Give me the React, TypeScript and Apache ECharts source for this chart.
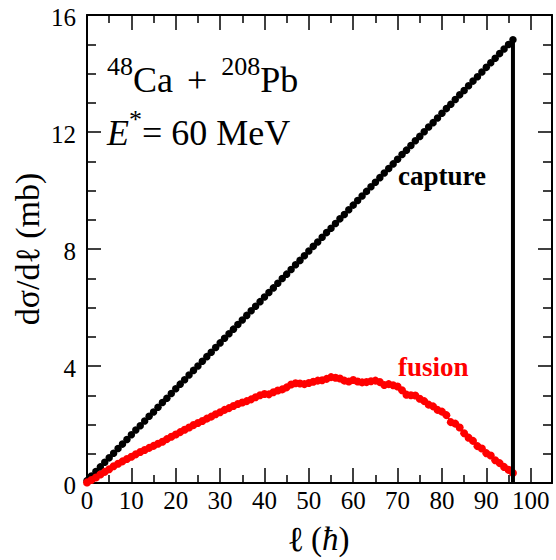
import React, { useEffect, useRef } from "react";
import * as echarts from "echarts";

// angular momentum ℓ (ħ)
const ELL = [
  0, 1, 2, 3, 4, 5, 6, 7, 8, 9, 10, 11, 12, 13, 14, 15, 16, 17, 18, 19,
  20, 21, 22, 23, 24, 25, 26, 27, 28, 29, 30, 31, 32, 33, 34, 35, 36, 37, 38, 39,
  40, 41, 42, 43, 44, 45, 46, 47, 48, 49, 50, 51, 52, 53, 54, 55, 56, 57, 58, 59,
  60, 61, 62, 63, 64, 65, 66, 67, 68, 69, 70, 71, 72, 73, 74, 75, 76, 77, 78, 79,
  80, 81, 82, 83, 84, 85, 86, 87, 88, 89, 90, 91, 92, 93, 94, 95, 96,
];

// capture partial cross section dσ/dℓ (mb)
const CAPTURE = [
  0.08, 0.24, 0.39, 0.55, 0.71, 0.86, 1.02, 1.18, 1.33, 1.49,
  1.65, 1.81, 1.96, 2.12, 2.28, 2.43, 2.59, 2.75, 2.9, 3.06,
  3.22, 3.38, 3.53, 3.69, 3.85, 4.0, 4.16, 4.32, 4.47, 4.63,
  4.79, 4.95, 5.1, 5.26, 5.42, 5.57, 5.73, 5.89, 6.04, 6.2,
  6.36, 6.51, 6.67, 6.83, 6.99, 7.14, 7.3, 7.46, 7.61, 7.77,
  7.93, 8.09, 8.24, 8.4, 8.56, 8.71, 8.87, 9.03, 9.18, 9.34,
  9.5, 9.66, 9.81, 9.97, 10.13, 10.28, 10.44, 10.6, 10.75, 10.91,
  11.07, 11.23, 11.38, 11.54, 11.7, 11.85, 12.01, 12.17, 12.32, 12.48,
  12.64, 12.8, 12.95, 13.11, 13.27, 13.42, 13.58, 13.74, 13.89, 14.05,
  14.21, 14.37, 14.52, 14.68, 14.84, 14.99, 15.15,
];

// fusion partial cross section dσ/dℓ (mb)
const FUSION = [
  0.02, 0.1, 0.19, 0.29, 0.38, 0.47, 0.57, 0.66, 0.74, 0.82,
  0.9, 0.98, 1.06, 1.13, 1.2, 1.27, 1.34, 1.41, 1.5, 1.58,
  1.66, 1.74, 1.82, 1.9, 1.98, 2.05, 2.12, 2.2, 2.27, 2.35,
  2.42, 2.5, 2.56, 2.63, 2.7, 2.75, 2.8, 2.86, 2.93, 3.0,
  3.04, 3.03, 3.1, 3.16, 3.2, 3.27, 3.37, 3.41, 3.4, 3.38,
  3.42, 3.46, 3.5, 3.51, 3.56, 3.62, 3.6, 3.57, 3.5, 3.47,
  3.52, 3.47, 3.44, 3.45, 3.48, 3.5, 3.45, 3.35, 3.38, 3.34,
  3.3, 3.17, 3.02, 3.0, 2.99, 2.88, 2.8, 2.68, 2.62, 2.5,
  2.44, 2.32, 2.08, 2.03, 1.9, 1.7, 1.55, 1.44, 1.26, 1.18,
  1.02, 0.94, 0.78, 0.68, 0.55, 0.45, 0.34,
];

const X_MAJOR = [0, 10, 20, 30, 40, 50, 60, 70, 80, 90, 100];
const X_MINOR = [5, 15, 25, 35, 45, 55, 65, 75, 85, 95];
const Y_MAJOR = [0, 4, 8, 12, 16];
const X_MIN = 0;
const X_MAX = 104.8;
const Y_MIN = 0;
const Y_MAX = 16;
const Y_STEP = 4;

const X_TITLE = "{a|ℓ}{c| (}{b|ħ}{c|)}";
const Y_TITLE = "{c|dσ/dℓ (mb)}";

const SERIF = "'Liberation Serif', 'Times New Roman', serif";

const tok = (size: number, extra: any = {}) => ({
  fontFamily: SERIF,
  fontSize: size,
  fill: "#000",
  ...extra,
});

export default function App() {
  const ref = useRef<HTMLDivElement>(null);

  useEffect(() => {
    document.body.style.margin = "0";
    if (!ref.current) return;
    const chart = echarts.init(ref.current, undefined, { renderer: "svg" });

    const lastIdx = ELL.length - 1;
    const cutoff = ELL[lastIdx];

    const baseX = (position: "bottom" | "top") => ({
      type: "value",
      position,
      min: X_MIN,
      max: X_MAX,
      interval: 10,
      splitLine: { show: false },
      axisLabel: { show: false },
    });

    const majorX = (position: "bottom" | "top") => ({
      ...baseX(position),
      axisLine: { show: true, onZero: false, lineStyle: { color: "#000", width: 2 } },
      axisTick: {
        show: true,
        inside: true,
        length: 15,
        customValues: X_MAJOR,
        lineStyle: { color: "#000", width: 1.5 },
      },
    });

    const minorX = (position: "bottom" | "top") => ({
      ...baseX(position),
      axisLine: { show: false, onZero: false },
      axisTick: {
        show: true,
        inside: true,
        length: 8,
        customValues: X_MINOR,
        lineStyle: { color: "#000", width: 1.5 },
      },
    });

    const yAxisDef = (position: "left" | "right") => ({
      type: "value",
      position,
      min: Y_MIN,
      max: Y_MAX,
      interval: Y_STEP,
      splitLine: { show: false },
      axisLine: { show: true, onZero: false, lineStyle: { color: "#000", width: 2 } },
      axisTick: { show: true, inside: true, length: 14, lineStyle: { color: "#000", width: 1.5 } },
      minorTick: { show: true, splitNumber: 4, length: 9, lineStyle: { color: "#000", width: 1.5 } },
      axisLabel: { show: false },
    });

    const supStyle = tok(26, { lineHeight: 26, verticalAlign: "top" });
    const mainStyle = tok(36, { lineHeight: 45, verticalAlign: "bottom" });

    const option: any = {
      animation: false,
      backgroundColor: "#fff",
      grid: { left: 87, right: 4, top: 15, bottom: 77, containLabel: false },
      xAxis: [majorX("bottom"), minorX("bottom"), majorX("top"), minorX("top")],
      yAxis: [yAxisDef("left"), yAxisDef("right")],
      series: [
        {
          type: "line",
          name: "capture",
          xAxisIndex: 0,
          yAxisIndex: 0,
          data: ELL.map((l, i) => [l, CAPTURE[i]]),
          symbol: "circle",
          symbolSize: 7.5,
          showAllSymbol: true,
          clip: false,
          itemStyle: { color: "#000" },
          lineStyle: { color: "#000", width: 2 },
          z: 2,
        },
        {
          type: "line",
          name: "fusion",
          xAxisIndex: 0,
          yAxisIndex: 0,
          data: ELL.map((l, i) => [l, FUSION[i]]),
          symbol: "circle",
          symbolSize: 8,
          showAllSymbol: true,
          clip: false,
          itemStyle: { color: "#ff0000" },
          lineStyle: { color: "#ff0000", width: 2 },
          z: 3,
        },
        {
          type: "line",
          name: "cutoff",
          xAxisIndex: 0,
          yAxisIndex: 0,
          data: [
            [cutoff, 0],
            [cutoff, CAPTURE[lastIdx]],
          ],
          symbol: "none",
          clip: false,
          lineStyle: { color: "#000", width: 4 },
          z: 4,
        },
      ],
    };

    chart.setOption(option);

    // tick labels and axis titles placed from the axes' own scales
    const toPx = (x: number, y: number) =>
      chart.convertToPixel({ xAxisIndex: 0, yAxisIndex: 0 }, [x, y]) as number[];

    const graphics: any[] = [];
    X_MAJOR.forEach((v) => {
      const [px, py] = toPx(v, Y_MIN);
      graphics.push({
        type: "text",
        x: px,
        y: py + 17,
        silent: true,
        style: {
          text: `{t|${v}}`,
          font: `25px ${SERIF}`,
          fill: "#000",
          align: "center",
          verticalAlign: "middle",
          rich: { t: tok(25, { lineHeight: 26 }) },
        },
      });
    });
    Y_MAJOR.forEach((v) => {
      const [px, py] = toPx(X_MIN, v);
      graphics.push({
        type: "text",
        x: px - 11,
        y: py + 2,
        silent: true,
        style: {
          text: `{t|${v}}`,
          font: `25px ${SERIF}`,
          fill: "#000",
          align: "right",
          verticalAlign: "middle",
          rich: { t: tok(25, { lineHeight: 26 }) },
        },
      });
    });

    const [xLeft, yBottom] = toPx(X_MIN, Y_MIN);
    const [xRight, yTop] = toPx(X_MAX, Y_MAX);

    graphics.push({
      type: "text",
      x: (xLeft + xRight) / 2,
      y: yBottom + 56,
      silent: true,
      style: {
        text: X_TITLE,
        font: `33px ${SERIF}`,
        fill: "#000",
        align: "center",
        verticalAlign: "middle",
        rich: {
          a: tok(35, { fontWeight: "bold", lineHeight: 30 }),
          b: tok(33, { fontStyle: "italic", lineHeight: 30 }),
          c: tok(33, { lineHeight: 30 }),
        },
      },
    });
    graphics.push({
      type: "text",
      x: xLeft - 60,
      y: (yBottom + yTop) / 2,
      rotation: Math.PI / 2,
      silent: true,
      style: {
        text: Y_TITLE,
        font: `34px ${SERIF}`,
        fill: "#000",
        align: "center",
        verticalAlign: "middle",
        rich: { c: tok(34, { lineHeight: 34 }) },
      },
    });

    graphics.push(
      {
        type: "text",
        left: 107,
        top: 53,
        style: {
          text: "{s|48}{m|Ca}{p|+}{s|208}{m|Pb}",
          fill: "#000",
          font: `36px ${SERIF}`,
          rich: {
            s: supStyle,
            m: mainStyle,
            p: { ...mainStyle, padding: [0, 14, 0, 14] },
          },
        },
      },
      {
        type: "text",
        left: 107,
        top: 106,
        style: {
          text: "{i|E}{s|*}{m|= 60 MeV}",
          fill: "#000",
          font: `36px ${SERIF}`,
          rich: {
            i: { ...mainStyle, fontStyle: "italic" },
            s: supStyle,
            m: mainStyle,
          },
        },
      },
      {
        type: "text",
        left: 398,
        top: 162,
        style: {
          text: "{t|capture}",
          fill: "#000",
          font: `bold 27px ${SERIF}`,
          rich: { t: tok(27, { fontWeight: "bold" }) },
        },
      },
      {
        type: "text",
        left: 398,
        top: 353,
        style: {
          text: "{t|fusion}",
          fill: "#ff0000",
          font: `bold 27px ${SERIF}`,
          rich: { t: tok(27, { fontWeight: "bold", fill: "#ff0000" }) },
        },
      }
    );

    chart.setOption({ graphic: graphics });
    return () => chart.dispose();
  }, []);

  return <div ref={ref} style={{ width: 556, height: 560 }} />;
}
